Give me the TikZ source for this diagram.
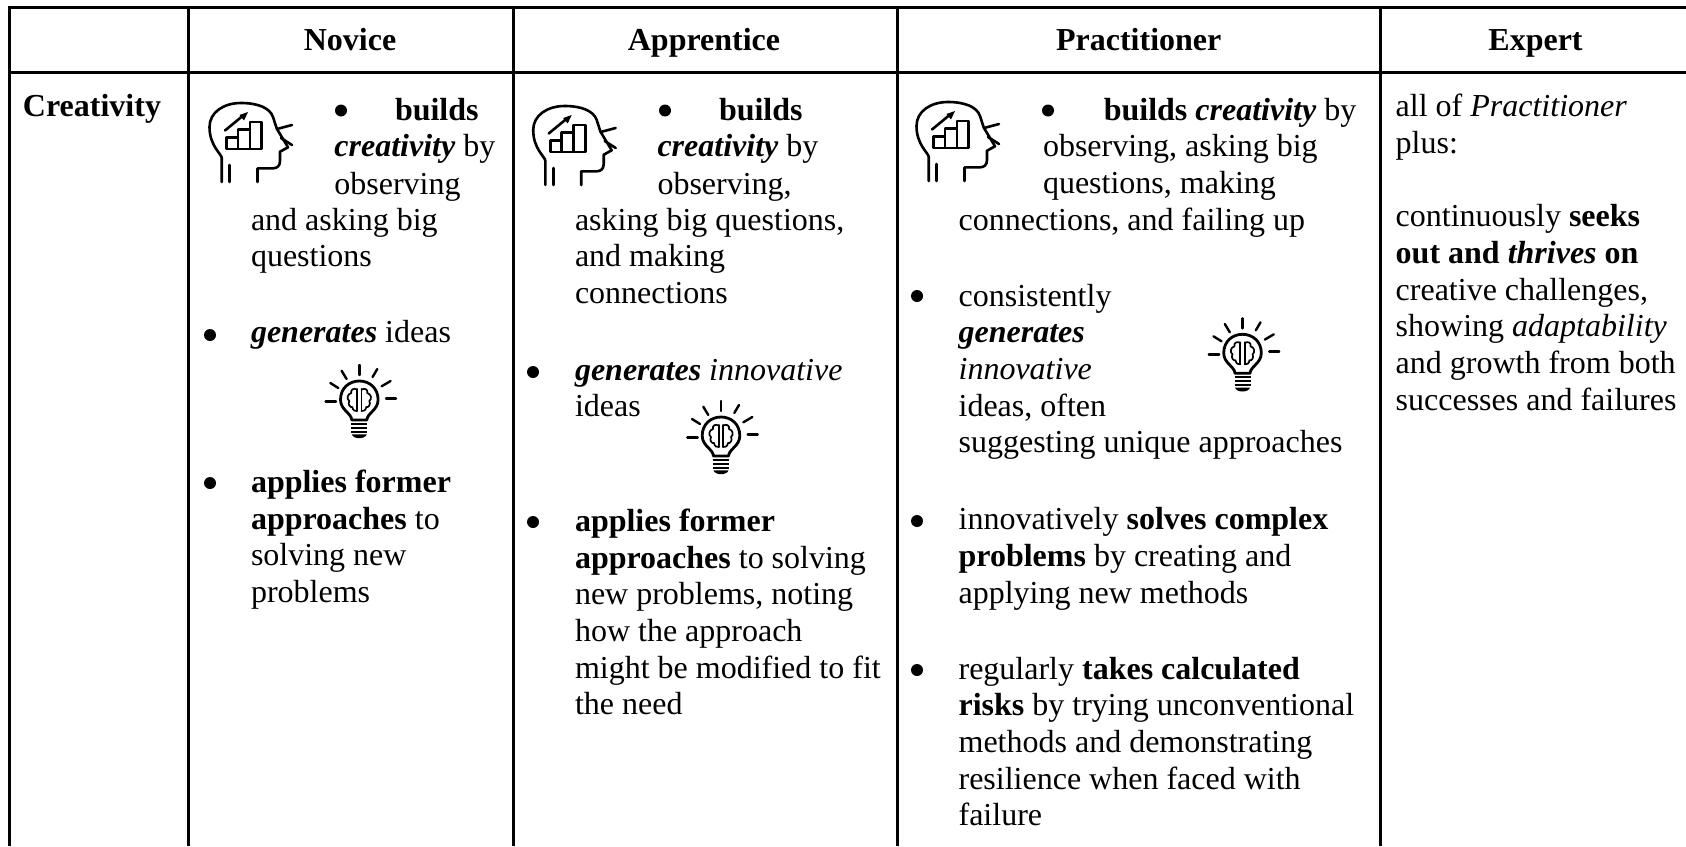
\documentclass[tikz,border=0pt]{standalone}
\usepackage{fontspec}
\setmainfont{Liberation Serif}
\tikzset{
  x=1pt,y=-1pt,
  rule/.style={line width=3pt,black},
  txt/.style={anchor=base west,inner sep=0pt,outer sep=0pt,font=\fontsize{32}{36.8}\selectfont},
  hdr/.style={anchor=base,inner sep=0pt,outer sep=0pt,font=\fontsize{32}{36.8}\selectfont\bfseries},
  dot/.style={circle,fill=black,inner sep=0pt,minimum size=12pt},
  ico/.style={line width=2.6pt,black,line cap=round,line join=round},
  bulbico/.style={line width=2.4pt,black,line cap=round,line join=round}
}
\newcommand{\headicon}[2]{%
 \begin{scope}[shift={(#1,#2)},ico]
  \draw (221.7,182) -- (221.7,158) .. controls (221.7,154) and (209.5,146) .. (209.5,127) .. controls (209.5,112) and (224,103) .. (241,103) .. controls (258,103) and (270,108) .. (273,117) -- (276.7,128.5) -- (288,147.3) -- (280,151.7) -- (280,161) .. controls (280,166) and (277,168.3) .. (273,168.3) -- (257.5,168.3) -- (257.5,182);
  \draw (229.5,165) -- (229.5,182);
  \draw (277,129) -- (292,125);
  \draw (281,138) -- (292,145);
  \draw (226.7,137.5) rectangle (238,149);
  \draw (238,129.5) rectangle (250,149);
  \draw (250,122) rectangle (261.5,149);
  \draw (225,130.5) -- (242,116.5);
  \fill (248,112) -- (244,120.5) -- (239.5,115) -- cycle;
 \end{scope}}
\newcommand{\bulbicon}[2]{%
 \begin{scope}[shift={(#1,#2)},bulbico]
  \draw (0,0) -- (0,10);
  \draw (-17.7,5.7) -- (-12.7,14);
  \draw (18,4) -- (13.3,12);
  \draw (-29,18) -- (-21,23);
  \draw (31.3,16) -- (22.3,21.3);
  \draw (-33.7,36.3) -- (-23.3,36.3);
  \draw (36.7,33.3) -- (26.7,33.3);
  \draw[line width=2.8pt] (-7.5,55) .. controls (-8,48) and (-18.8,45) .. (-18.8,34.7) .. controls (-18.8,23) and (-10,16) .. (0,16) .. controls (10,16) and (18.8,23) .. (18.8,34.7) .. controls (18.8,45) and (8,48) .. (7.5,55) -- cycle;
  \draw[line width=1.7pt] (-2.2,24) -- (-2.2,46) (2.2,24) -- (2.2,46);
  \draw[line width=1.7pt] (-2.2,24.5) .. controls (-6,22.5) and (-9,25) .. (-8,28) .. controls (-12,29) and (-13,34) .. (-10,36) .. controls (-12,39) and (-9,43) .. (-7,42) .. controls (-6.5,45.5) and (-4,46.5) .. (-2.2,46);
  \draw[line width=1.7pt] (2.2,24.5) .. controls (6,22.5) and (9,25) .. (8,28) .. controls (12,29) and (13,34) .. (10,36) .. controls (12,39) and (9,43) .. (7,42) .. controls (6.5,45.5) and (4,46.5) .. (2.2,46);
  \draw[line width=2.2pt,line cap=butt] (-8,58.7) -- (8,58.7) (-8,63) -- (8,63) (-8,67) -- (8,67);
  \fill (-7.5,69.3) -- (7.5,69.3) .. controls (6,74.5) and (-6,74.5) .. (-7.5,69.3) -- cycle;
 \end{scope}}
\newcommand{\T}[4]{\node[txt] (#1) at (#2,#3) {#4};}
\newcommand{\B}[3]{\node[dot] (#1) at (#2,#3) {};}
\begin{document}
\begin{tikzpicture}
\useasboundingbox (0,0) rectangle (1686,846);
\fill[white] (0,0) rectangle (1686,846);
% rules
\draw[rule] (8,7) -- (1686,7);
\draw[rule] (8,72.5) -- (1686,72.5);
\foreach \X in {9.5,188.7,513.4,897.3,1380.6} \draw[rule] (\X,7) -- (\X,846);
% header
\node[hdr] (h1) at (350,50.7) {Novice};
\node[hdr] (h2) at (704,50.7) {Apprentice};
\node[hdr] (h3) at (1138.7,50.7) {Practitioner};
\node[hdr] (h4) at (1535.5,50.7) {Expert};
\T{c0}{23}{116.7}{\textbf{Creativity}}
% Novice
\headicon{0}{0}
\B{na}{341}{110.5}
\T{n1}{395}{120}{\textbf{builds}}
\T{n2}{334.4}{156.7}{\textbf{\textit{creativity}} by}
\T{n3}{334.4}{194}{observing}
\T{n4}{251}{230}{and asking big}
\T{n5}{251}{266.7}{questions}
\B{nb}{210}{335}
\T{n6}{251}{342.7}{\textbf{\textit{generates}} ideas}
\bulbicon{359.3}{365}
\B{nc}{210}{483}
\T{n7}{251}{492.3}{\textbf{applies former}}
\T{n8}{251}{529}{\textbf{approaches} to}
\T{n9}{251}{565.7}{solving new}
\T{n10}{251}{602.3}{problems}
% Apprentice
\headicon{323.7}{3}
\B{aa}{665}{110.5}
\T{a1}{719}{120}{\textbf{builds}}
\T{a2}{657.5}{156.7}{\textbf{\textit{creativity}} by}
\T{a3}{657.5}{194}{observing,}
\T{a4}{575}{230}{asking big questions,}
\T{a5}{575}{266.7}{and making}
\T{a6}{575}{303.4}{connections}
\B{ab}{533}{372}
\T{a7}{575}{380}{\textbf{\textit{generates}} \textit{innovative}}
\T{a8}{575}{416.7}{ideas}
\bulbicon{721}{401}
\B{ac}{533}{522}
\T{a9}{575}{531.3}{\textbf{applies former}}
\T{a10}{575}{568}{\textbf{approaches} to solving}
\T{a11}{575}{604.7}{new problems, noting}
\T{a12}{575}{641.4}{how the approach}
\T{a13}{575}{678.1}{might be modified to fit}
\T{a14}{575}{714.8}{the need}
% Practitioner
\headicon{707}{-1}
\B{pa}{1048}{110.5}
\T{p1}{1103.8}{120}{\textbf{builds \textit{creativity}} by}
\T{p2}{1043}{156.7}{observing, asking big}
\T{p3}{1043}{193.4}{questions, making}
\T{p4}{958.6}{230}{connections, and failing up}
\B{pb}{917}{296}
\T{p5}{958.6}{306}{consistently}
\T{p6}{958.6}{342.7}{\textbf{\textit{generates}}}
\T{p7}{958.6}{379.4}{\textit{innovative}}
\T{p8}{958.6}{416.1}{ideas, often}
\T{p9}{958.6}{452.8}{suggesting unique approaches}
\bulbicon{1242.5}{318.3}
\B{pc}{917}{521}
\T{p10}{958.6}{529.7}{innovatively \textbf{solves complex}}
\T{p11}{958.6}{566.4}{\textbf{problems} by creating and}
\T{p12}{958.6}{603.1}{applying new methods}
\B{pd}{917}{670}
\T{p13}{958.6}{679}{regularly \textbf{takes calculated}}
\T{p14}{958.6}{715.7}{\textbf{risks} by trying unconventional}
\T{p15}{958.6}{752.4}{methods and demonstrating}
\T{p16}{958.6}{789.1}{resilience when faced with}
\T{p17}{958.6}{825.8}{failure}
% Expert
\T{e1}{1395.7}{116.7}{all of \textit{Practitioner}}
\T{e2}{1395.7}{153.4}{plus:}
\T{e3}{1395.7}{226.8}{continuously \textbf{seeks}}
\T{e4}{1395.7}{263.5}{\textbf{out and \textit{thrives} on}}
\T{e5}{1395.7}{300.2}{creative challenges,}
\T{e6}{1395.7}{336.9}{showing \textit{adaptability}}
\T{e7}{1395.7}{373.6}{and growth from both}
\T{e8}{1395.7}{410.3}{successes and failures}
\end{tikzpicture}
\end{document}
